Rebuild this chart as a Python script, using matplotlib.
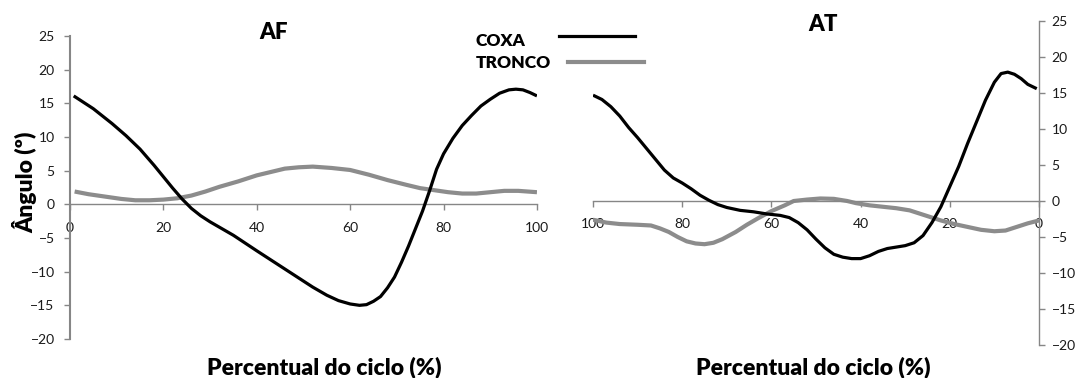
import matplotlib.pyplot as plt
from matplotlib.lines import Line2D

# AF: hip (coxa) and trunk (tronco) angle over the cycle
af_coxa_x = [0.8, 5, 9, 12, 15, 18, 20, 22, 24, 26, 28, 30, 35, 40, 46, 52, 55, 57.5,
             60, 62, 63.5, 65, 66.5, 68, 69.5, 71, 72.5, 74, 75.5, 77, 78.5, 80, 82,
             84, 86, 88, 90, 92, 94, 95.5, 97, 98.5, 100]
af_coxa_y = [16.1, 14.2, 12.0, 10.2, 8.2, 5.8, 4.1, 2.4, 0.8, -0.6, -1.7, -2.6, -4.6,
             -6.9, -9.6, -12.3, -13.5, -14.3, -14.8, -15.0, -14.9, -14.4, -13.7,
             -12.4, -10.8, -8.6, -6.2, -3.6, -1.0, 2.0, 5.2, 7.5, 9.8, 11.7, 13.2,
             14.6, 15.6, 16.5, 17.0, 17.1, 17.0, 16.6, 16.1]
af_tronco_x = [1, 4, 8, 11, 14, 17, 20, 23, 26, 29, 32, 36, 40, 43, 46, 49, 52, 56,
               60, 64, 68, 72, 75, 78, 81, 84, 87, 90, 93, 96, 100]
af_tronco_y = [1.9, 1.5, 1.1, 0.8, 0.6, 0.6, 0.7, 0.9, 1.3, 1.9, 2.6, 3.4, 4.3, 4.8,
               5.3, 5.5, 5.6, 5.4, 5.1, 4.4, 3.6, 2.9, 2.4, 2.1, 1.8, 1.6, 1.6, 1.8,
               2.0, 2.0, 1.8]

# AT: same series, x axis runs from 100 down to 0
at_coxa_x = [100, 98, 96, 94, 92, 90, 88, 86, 84, 82, 80, 78, 76, 74, 72, 70, 67, 64,
             61, 58, 56, 54, 52, 50, 48, 46, 44, 42, 40, 38, 36, 34, 32, 30, 28, 26,
             24, 22, 20, 18, 16, 14, 12, 10, 8.5, 7, 5.5, 4, 2.5, 0.5]
at_coxa_y = [14.7, 14.1, 13.1, 11.8, 10.2, 8.8, 7.3, 5.8, 4.3, 3.2, 2.5, 1.7, 0.8, 0.1,
             -0.5, -0.9, -1.3, -1.5, -1.8, -2.0, -2.3, -3.0, -4.0, -5.3, -6.5, -7.4,
             -7.8, -8.0, -8.0, -7.6, -7.0, -6.6, -6.4, -6.2, -5.8, -4.8, -3.0, -0.8,
             2.0, 4.8, 8.0, 11.0, 14.0, 16.5, 17.7, 17.9, 17.6, 17.0, 16.2, 15.6]
at_tronco_x = [100, 97, 94, 90, 87, 85, 83, 81, 79, 77, 75, 73, 71, 68, 65.5, 63, 60,
               57, 55, 52, 49, 46, 43, 41, 38, 35, 32, 29, 27, 24.5, 22, 19, 16, 13,
               10, 7.5, 5, 2.5, 0]
at_tronco_y = [-2.6, -3.0, -3.2, -3.3, -3.4, -3.8, -4.3, -5.0, -5.6, -5.9, -6.0, -5.8,
               -5.3, -4.3, -3.3, -2.4, -1.4, -0.6, 0, 0.2, 0.35, 0.3, 0.0, -0.3, -0.6,
               -0.8, -1.0, -1.3, -1.7, -2.2, -2.7, -3.2, -3.6, -4.0, -4.2, -4.1, -3.6,
               -3.1, -2.7]

x_ticks = [0, 20, 40, 60, 80, 100]
y_ticks = [-20, -15, -10, -5, 0, 5, 10, 15, 20, 25]

plt.rcParams['font.family'] = ['Lato', 'DejaVu Sans']

black = '#000000'
gray = '#8c8c8c'
axis_gray = '#868686'
bold = 'heavy'

fig = plt.figure(figsize=(10.78, 3.78), dpi=100)
ax1 = fig.add_axes([0.0649, 0.1032, 0.4332, 0.8016])
ax2 = fig.add_axes([0.5501, 0.0873, 0.4137, 0.8571])

line_kw = dict(solid_joinstyle='round', solid_capstyle='butt')
ax1.plot(af_coxa_x, af_coxa_y, color=black, lw=2.3, zorder=3, **line_kw)
ax1.plot(af_tronco_x, af_tronco_y, color=gray, lw=3.0, zorder=2, **line_kw)
ax2.plot(at_coxa_x, at_coxa_y, color=black, lw=2.3, zorder=3, **line_kw)
ax2.plot(at_tronco_x, at_tronco_y, color=gray, lw=3.0, zorder=2, **line_kw)

for ax in (ax1, ax2):
    ax.set_ylim(-20, 25)
    ax.set_yticks(y_ticks)
    ax.set_xticks(x_ticks)
    ax.spines['top'].set_visible(False)
    ax.spines['bottom'].set_position(('data', 0))
    ax.spines['bottom'].set_color(axis_gray)
    ax.spines['bottom'].set_linewidth(1.0)
    ax.tick_params(axis='both', colors=axis_gray, labelcolor='#1a1a1a',
                   labelsize=10, length=4, width=1.0, direction='out')
    ax.patch.set_visible(False)

ax1.set_xlim(0, 100)
ax1.spines['right'].set_visible(False)
ax1.spines['left'].set_color(axis_gray)
ax1.spines['left'].set_linewidth(1.5)
ax1.tick_params(axis='x', pad=9)
ax1.tick_params(axis='y', pad=7)

ax2.set_xlim(100, 0)
ax2.spines['left'].set_visible(False)
ax2.spines['right'].set_color(axis_gray)
ax2.spines['right'].set_linewidth(1.0)
ax2.yaxis.tick_right()
ax2.tick_params(axis='x', pad=8)
ax2.tick_params(axis='y', pad=5)

ax1.text(0.435, 1.01, 'AF', transform=ax1.transAxes, ha='center', va='center',
         fontsize=16, fontweight=bold)
ax2.text(0.516, 0.99, 'AT', transform=ax2.transAxes, ha='center', va='center',
         fontsize=16, fontweight=bold)

fig.text(324 / 1078, 1 - 367 / 378, 'Percentual do ciclo (%)', ha='center',
         va='center', fontsize=16.5, fontweight=bold)
fig.text(813 / 1078, 1 - 367 / 378, 'Percentual do ciclo (%)', ha='center',
         va='center', fontsize=16.5, fontweight=bold)
fig.text(25 / 1078, 1 - 182 / 378, 'Ângulo (º)', ha='center', va='center',
         rotation=90, fontsize=16.5, fontweight=bold)

# legend drawn by hand: labels on the left, sample lines on the right
fig.text(476 / 1078, 1 - 41 / 378, 'COXA', ha='left', va='center',
         fontsize=12.5, fontweight=bold)
fig.text(476 / 1078, 1 - 63 / 378, 'TRONCO', ha='left', va='center',
         fontsize=12.5, fontweight=bold)
fig.add_artist(Line2D([559 / 1078, 635 / 1078], [1 - 36 / 378, 1 - 36 / 378],
                      color=black, lw=2.3, transform=fig.transFigure))
fig.add_artist(Line2D([568 / 1078, 644 / 1078], [1 - 62 / 378, 1 - 62 / 378],
                      color=gray, lw=3.0, transform=fig.transFigure))

fig.savefig('out.png', dpi=100)
